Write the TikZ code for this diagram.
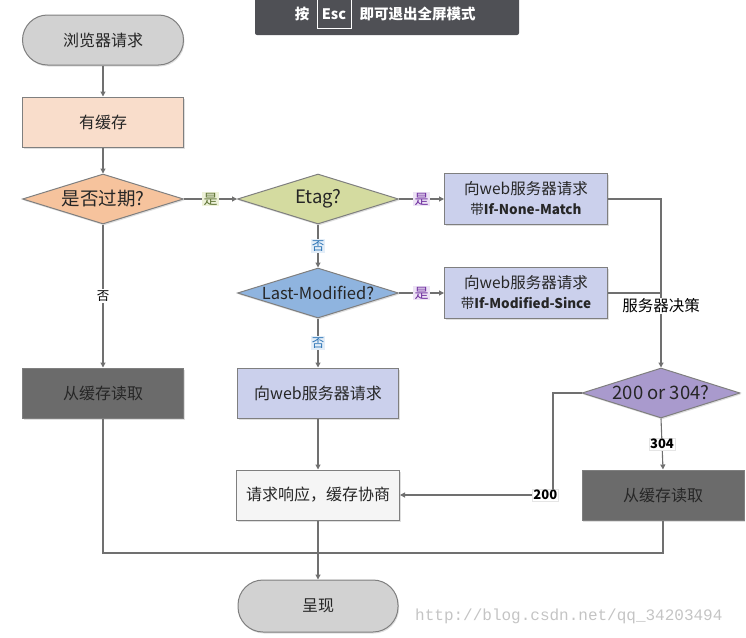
\documentclass[tikz,border=0pt]{standalone}
\usepackage{fontspec}
\setmainfont{Noto Sans CJK SC}
\newfontfamily\wmfont{Liberation Mono}
\usetikzlibrary{shapes.geometric,arrows.meta,shadows}
\definecolor{lineC}{HTML}{707070}
\definecolor{bordC}{HTML}{7F7F7F}
\definecolor{termC}{HTML}{D2D2D2}
\definecolor{peachC}{HTML}{F9DDCB}
\definecolor{orangeC}{HTML}{F6C39D}
\definecolor{greenC}{HTML}{D4DBA0}
\definecolor{lavC}{HTML}{CBD0EC}
\definecolor{blueC}{HTML}{8FB4DF}
\definecolor{purpC}{HTML}{A99ACD}
\definecolor{darkC}{HTML}{6B6B6B}
\definecolor{respC}{HTML}{F5F5F5}
\definecolor{bannerC}{HTML}{4F5055}
\definecolor{wmC}{HTML}{C4C4C4}
\definecolor{lgBg}{HTML}{EEF2DA}
\definecolor{lgTx}{HTML}{5F7436}
\definecolor{lpBg}{HTML}{EDE3F5}
\definecolor{lpTx}{HTML}{7030A0}
\definecolor{lbBg}{HTML}{E4EEF8}
\definecolor{lbTx}{HTML}{2E75B6}
\tikzset{
  shd/.style={drop shadow={opacity=0.25,shadow xshift=1pt,shadow yshift=-1.5pt}},
  boxn/.style={draw=bordC, line width=1pt, minimum width=161pt, minimum height=50pt,
    inner sep=0pt, align=center, font=\fontsize{16}{19}\selectfont, text=black!85, shd},
  box2/.style={boxn, font=\fontsize{15.5}{20}\selectfont, minimum width=163pt, minimum height=51pt},
  termn/.style={boxn, rounded corners=25pt, fill=termC},
  diam/.style={draw=bordC, line width=1pt, diamond, aspect=3.2, minimum width=161pt,
    minimum height=50pt, inner sep=0pt, shd},
  dtext/.style={font=\fontsize{18.5}{20}\selectfont, text=black!85},
  conn/.style={draw=lineC, line width=1.1pt},
  arr/.style={conn, -{Triangle[width=5pt,length=5pt]}},
  lab/.style={fill=white, inner sep=1.2pt, font=\fontsize{12.5}{14}\selectfont},
  labG/.style={lab, font=\fontsize{14}{15}\selectfont, fill=lgBg, text=lgTx},
  labP/.style={lab, font=\fontsize{14}{15}\selectfont, fill=lpBg, text=lpTx},
  labB/.style={lab, fill=lbBg, text=lbTx},
  labN/.style={lab, font=\fontsize{13}{14}\selectfont\bfseries, draw=black!10, line width=0.4pt},
  bantext/.style={text=white, font=\fontsize{14.5}{16}\selectfont\bfseries},
}
\newcommand{\sndline}[1]{{\fontsize{13.5}{20}\selectfont #1}}
\begin{document}
\begin{tikzpicture}[x=1pt,y=-1pt]
\useasboundingbox (0,0) rectangle (746,637);
% banner
\fill[bannerC, rounded corners=2pt] (255,-5) rectangle (519,35);
\node[bantext, draw=white, line width=0.7pt, minimum width=34pt, minimum height=29pt, inner sep=0pt] (esc) at (334,14) {Esc};
\node[bantext, anchor=east] (an) at (313,14) {按};
\node[bantext, anchor=west] (ji) at (356,14) {即可退出全屏模式};
% nodes
\node[termn] (start) at (103,40) {浏览器请求};
\node[boxn, fill=peachC] (cache) at (103,122) {有缓存};
\node[diam, fill=orangeC] (exp) at (103,199) {};
\node[dtext] (expt) at (103,199) {是否过期?};
\node[diam, fill=greenC] (etag) at (318,199) {};
\node[dtext] (etagt) at (318,199) {Etag?};
\node[box2, fill=lavC] (inm) at (526,199) {向web服务器请求\\\sndline{带\textbf{If-None-Match}}};
\node[diam, fill=blueC] (lm) at (318,293) {};
\node[dtext, font=\fontsize{16.5}{18}\selectfont] (lmt) at (318,293) {Last-Modified?};
\node[box2, fill=lavC] (ims) at (526,293) {向web服务器请求\\\sndline{带\textbf{If-Modified-Since}}};
\node[boxn, fill=lavC] (req) at (318,393) {向web服务器请求};
\node[boxn, fill=respC, minimum width=163pt] (resp) at (318,495) {请求响应，缓存协商};
\node[boxn, fill=darkC, text=black!85] (readL) at (103,393) {从缓存读取};
\node[diam, fill=purpC, minimum width=158pt] (dec) at (661,393) {};
\node[dtext] (dect) at (661,393) {200 or 304?};
\node[boxn, fill=darkC, text=black!85, minimum width=162pt] (readR) at (663,495) {从缓存读取};
\node[termn, minimum width=160pt, minimum height=52pt] (show) at (318,606) {呈现};
% connectors
\draw[arr] (start) -- (cache);
\draw[arr] (cache) -- (exp.north);
\draw[arr] (exp.east) -- node[labG] {是} (etag.west);
\draw[arr] (etag.east) -- node[labP] {是} (inm.west);
\draw[arr] (etag.south) -- node[labB] {否} (lm.north);
\draw[arr] (lm.east) -- node[labP] {是} (ims.west);
\draw[arr] (lm.south) -- node[labB] {否} (req.north);
\draw[arr] (req) -- (resp);
\draw[arr] (exp.south) -- node[lab] {否} (readL.north);
\draw[arr] (inm.east) -| (dec.north);
\draw[conn] (ims.east) -- (ims.east -| dec.north);
\node[lab, font=\fontsize{15.5}{17}\selectfont] (sd) at (661,306) {服务器决策};
\coordinate (c200) at (553,495);
\draw[arr] (dec.west) -| (c200) -- node[labN, pos=0.05] {200} (resp.east);
\draw[arr] (dec.south) -- node[labN] {304} (readR.north);
\coordinate (jl) at (103,553);
\draw[conn] (readL.south) -- (jl) -| (readR.south);
\draw[arr] (resp.south) -- (show.north);
% watermark
\node[text=wmC, font=\wmfont\fontsize{16}{18}\selectfont, anchor=west, inner sep=0pt] (wm) at (415,616) {http://blog.csdn.net/qq\_34203494};
\end{tikzpicture}
\end{document}
